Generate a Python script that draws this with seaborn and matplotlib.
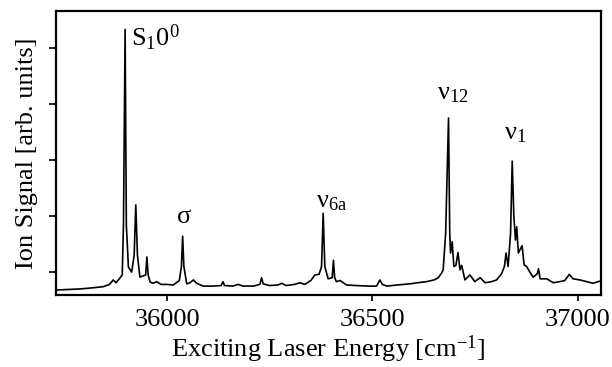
import matplotlib
matplotlib.use("Agg")
import matplotlib.pyplot as plt
import seaborn as sns
import pandas as pd

# Spectrum trace (wavenumber in cm^-1, signal in arb. units)
energy = [35731, 35760, 35790, 35820, 35845, 35860, 35869, 35876, 35886, 35891,
          35894, 35898, 35901, 35906, 35914, 35920, 35924, 35928, 35934, 35948,
          35951, 35954, 35959, 35966, 35975, 35985, 36000, 36015, 36030, 36035,
          36038, 36041, 36048, 36056, 36064, 36072, 36088, 36110, 36132, 36136,
          36140, 36160, 36173, 36185, 36210, 36226, 36230, 36234, 36250, 36270,
          36279, 36290, 36310, 36324, 36335, 36350, 36360, 36370, 36376, 36380,
          36384, 36392, 36402, 36405, 36408, 36412, 36421, 36437, 36460, 36490,
          36510, 36518, 36524, 36535, 36560, 36591, 36610, 36632, 36650, 36660,
          36668, 36672, 36678, 36685, 36688, 36690, 36694, 36698, 36703, 36708,
          36713, 36717, 36725, 36737, 36749, 36762, 36774, 36790, 36802, 36814,
          36821, 36825, 36830, 36836, 36840, 36844, 36848, 36851, 36855, 36859,
          36864, 36869, 36875, 36883, 36891, 36901, 36904, 36908, 36924, 36940,
          36956, 36968, 36979, 36988, 37005, 37021, 37037, 37049, 37055]
signal = [-0.32, -0.31, -0.30, -0.28, -0.26, -0.22, -0.14, -0.19, -0.10, -0.05,
          0.84, 4.33, 0.84, 0.09, 0.00, 0.30, 1.20, 0.30, -0.09, -0.05,
          0.27, -0.05, -0.18, -0.20, -0.17, -0.22, -0.22, -0.23, -0.15, 0.10,
          0.64, 0.10, -0.21, -0.19, -0.14, -0.20, -0.25, -0.25, -0.24, -0.17,
          -0.24, -0.25, -0.22, -0.25, -0.25, -0.22, -0.10, -0.21, -0.24, -0.23,
          -0.20, -0.24, -0.22, -0.19, -0.22, -0.15, -0.05, -0.04, 0.10, 1.05,
          0.10, -0.12, -0.10, 0.21, -0.10, -0.17, -0.15, -0.23, -0.24, -0.25,
          -0.25, -0.14, -0.22, -0.25, -0.23, -0.21, -0.19, -0.17, -0.14, -0.10,
          -0.02, 0.04, 0.69, 2.75, 0.69, 0.34, 0.54, 0.10, 0.12, 0.35,
          0.04, 0.12, -0.14, -0.05, -0.17, -0.10, -0.19, -0.17, -0.14, -0.03,
          0.10, 0.34, 0.10, 0.69, 1.98, 0.99, 0.57, 0.81, 0.34, 0.40,
          0.47, 0.13, 0.10, 0.00, -0.09, -0.03, 0.06, -0.12, -0.12, -0.19,
          -0.17, -0.15, -0.04, -0.12, -0.14, -0.17, -0.20, -0.17, -0.16]

x_ticks = [36000, 36500, 37000]
x_tick_labels = ["36000", "36500", "37000"]
y_ticks = [0, 1, 2, 3, 4]

peak_labels = [r"$\mathrm{S_{1}0^{0}}$", r"$\mathrm{\sigma}$", r"$\mathrm{ν_{6a}}$",
               r"$\mathrm{ν_{12}}$", r"$\mathrm{ν_{1}}$"]
peak_positions = [35898, 36038, 36380, 36685, 36840]

sns.set_theme(style="ticks")
plt.rcParams["font.family"] = ["Liberation Serif", "DejaVu Serif"]
plt.rcParams["mathtext.fontset"] = "custom"
plt.rcParams["mathtext.rm"] = "Liberation Serif"
plt.rcParams["mathtext.it"] = "Liberation Serif:italic"
plt.rcParams["mathtext.bf"] = "Liberation Serif:bold"

df = pd.DataFrame({"energy": energy, "signal": signal})

fig = plt.figure(figsize=(6.12, 3.67), dpi=100)
ax = fig.add_axes([0.0923, 0.196, 0.889, 0.774])
sns.lineplot(data=df, x="energy", y="signal", ax=ax, color="black",
             linewidth=1.2, estimator=None, sort=False)

ax.set_xlim(35731, 37055)
ax.set_ylim(-0.41, 4.66)
ax.set_xticks(x_ticks)
ax.set_xticklabels(x_tick_labels)
ax.set_yticks(y_ticks)
ax.set_yticklabels([])
ax.tick_params(axis="x", direction="out", length=4, width=1.2, labelsize=19, pad=6, colors="black")
ax.tick_params(axis="y", direction="out", length=5, width=1.2, colors="black")
for s in ax.spines.values():
    s.set_linewidth(1.6)
    s.set_color("black")
    s.set_visible(True)

ax.set_xlabel("Exciting Laser Energy [cm$^{-1}$]", fontsize=19, labelpad=2, color="black")
ax.set_ylabel("Ion Signal [arb. units]", fontsize=19, labelpad=5, color="black")

# label placement (offsets relative to peaks)
label_style = [
    dict(dx=14, y=4.03, ha="left"),
    dict(dx=3, y=0.88, ha="center"),
    dict(dx=-17, y=1.15, ha="left"),
    dict(dx=-28, y=3.08, ha="left"),
    dict(dx=-20, y=2.36, ha="left"),
]
for txt, px, st in zip(peak_labels, peak_positions, label_style):
    ax.text(px + st["dx"], st["y"], txt, ha=st["ha"], va="baseline", fontsize=19, color="black")

fig.savefig("out.png", dpi=100)
